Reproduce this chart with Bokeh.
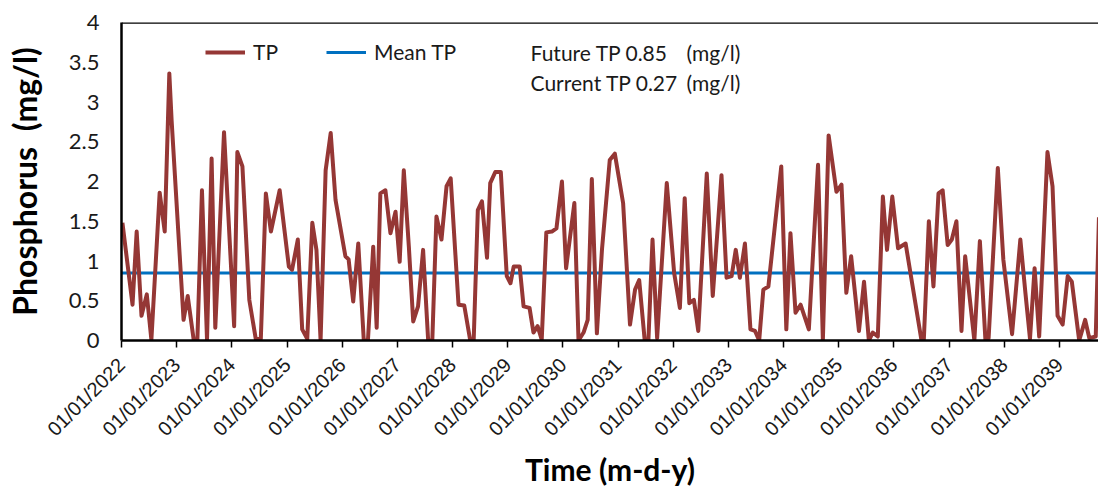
import math
import pandas as pd
from bokeh.plotting import figure
from bokeh.models import (Span, Label, Legend, LegendItem, FixedTicker,
                          DatetimeTickFormatter, Range1d)
from bokeh.embed import file_html
from bokeh.resources import INLINE

# ---- data (months since 01/01/2022, TP in mg/l) ----
months = [0.2, 2.4, 3.3, 4.35, 5.5, 6.5, 8.3, 9.4, 10.4, 10.9,
          13.5, 14.4, 15.7, 16.5, 17.5, 18.6, 19.6, 20.4, 22.3, 24.5,
          25.2, 26.3, 27.8, 29.2, 30.3, 31.4, 32.5, 34.4, 36.4, 37.1,
          38.35, 39.3, 40.4, 41.5, 42.4, 43.3, 44.4, 45.5, 46.55, 48.7,
          49.4, 50.4, 51.5, 52.7, 53.6, 54.75, 55.5, 56.3, 57.4, 58.5,
          59.6, 60.5, 61.4, 62.5, 63.45, 64.5, 65.6, 66.7, 67.6, 68.5,
          69.6, 70.7, 71.6, 73.3, 74.55, 75.85, 76.6, 77.5, 78.4, 79.5,
          80.2, 81.3, 82.5, 83.8, 84.6, 85.3, 86.6, 87.45, 88.75, 89.6,
          90.5, 91.4, 92.4, 93.6, 94.6, 95.8, 96.7, 98.5, 99.4, 100.5,
          101.4, 102.3, 103.4, 104.5, 106.2, 107.3, 109.1, 110.6, 111.7, 112.6,
          113.8, 114.6, 115.5, 116.5, 118.6, 120.2, 121.45, 122.5, 123.5, 124.5,
          125.45, 127.3, 128.6, 130.5, 131.6, 132.7, 133.6, 134.5, 135.6, 136.8,
          137.8, 138.7, 139.6, 140.7, 143.5, 144.6, 145.5, 146.6, 147.7, 149.5,
          151.5, 152.55, 153.8, 155.5, 156.6, 157.65, 158.7, 160.4, 161.5, 162.55,
          163.4, 164.5, 165.6, 166.5, 167.65, 168.9, 170.55, 174.0, 174.5, 175.6,
          176.6, 177.7, 178.6, 179.7, 180.6, 181.6, 182.7, 183.5, 185.5, 186.7,
          187.9, 188.6, 190.6, 191.8, 193.7, 195.5, 196.6, 197.6, 198.6, 199.6,
          201.4, 202.5, 203.6, 204.7, 205.8, 206.7, 208.3, 209.6, 210.5, 211.9,
          212.6]

tp = [1.48, 0.45, 1.37, 0.31, 0.58, 0.01, 1.86, 1.37, 3.36, 2.77,
      0.26, 0.56, 0.01, 0.0, 1.89, 0.01, 2.29, 0.16, 2.62, 0.18,
      2.37, 2.19, 0.51, 0.02, 0.02, 1.85, 1.37, 1.89, 0.93, 0.89,
      1.27, 0.14, 0.02, 1.48, 1.14, 0.0, 2.14, 2.61, 1.77, 1.06,
      1.02, 0.49, 1.22, 0.0, 0.0, 1.18, 0.16, 1.85, 1.89, 1.35,
      1.62, 0.99, 2.14, 1.18, 0.24, 0.43, 1.14, 0.0, 0.0, 1.56,
      1.27, 1.94, 2.04, 0.45, 0.44, 0.0, 0.0, 1.64, 1.75, 1.04,
      1.98, 2.12, 2.12, 0.81, 0.72, 0.93, 0.93, 0.43, 0.41, 0.10,
      0.18, 0.01, 1.36, 1.37, 1.41, 2.00, 0.91, 1.73, 0.0, 0.10,
      0.26, 2.03, 0.09, 1.14, 2.27, 2.35, 1.73, 0.20, 0.64, 0.76,
      0.0, 0.0, 1.27, 0.03, 1.98, 0.85, 0.41, 1.79, 0.47, 0.51,
      0.12, 2.10, 0.56, 2.08, 0.79, 0.81, 1.14, 0.79, 1.22, 0.14,
      0.12, 0.0, 0.64, 0.68, 2.19, 0.14, 1.35, 0.35, 0.45, 0.14,
      2.21, 0.0, 2.58, 1.87, 1.96, 0.60, 1.06, 0.12, 0.74, 0.0,
      0.10, 0.05, 1.81, 1.14, 1.81, 1.16, 1.22, 0.0, 0.0, 1.50,
      0.68, 1.85, 1.89, 1.20, 1.27, 1.50, 0.12, 1.06, 0.0, 1.25,
      0.01, 0.03, 2.17, 1.02, 0.08, 1.27, 0.60, 0.02, 0.91, 0.05,
      2.37, 1.94, 0.31, 0.20, 0.81, 0.74, 0.0, 0.26, 0.03, 0.05,
      1.55]

mean_tp = 0.85
future_tp = 0.85
current_tp = 0.27
tick_years = list(range(2022, 2040))
y_ticks = [0, 0.5, 1, 1.5, 2, 2.5, 3, 3.5, 4]
y_tick_labels = ["0", "0.5", "1", "1.5", "2", "2.5", "3", "3.5", "4"]

# ---- helpers ----
base = pd.Timestamp("2022-01-01")
MONTH_DAYS = 30.4375


def month_to_ms(m):
    return (base + pd.Timedelta(days=m * MONTH_DAYS)).value / 1e6


dates = [month_to_ms(m) for m in months]
x_start = month_to_ms(0.0)
x_end = month_to_ms(212.5)

TEXT = "#1a1a1a"

p = figure(width=1098, height=489, x_axis_type="datetime",
           output_backend="svg", toolbar_location=None,
           x_range=Range1d(x_start, x_end), y_range=Range1d(0, 4),
           min_border_left=121, min_border_right=0,
           min_border_top=22, min_border_bottom=148,
           background_fill_color="white", border_fill_color="white")
p.outline_line_color = None
p.grid.grid_line_color = None

r_mean = p.line([x_start, x_end], [mean_tp, mean_tp], line_color="#0070C0", line_width=3)
r_tp = p.line(dates, tp, line_color="#953735", line_width=4, line_join="round")

# top frame border
p.add_layout(Span(location=4, dimension="width", line_color="black", line_width=2.5))

# y axis
yax = p.yaxis[0]
yax.ticker = FixedTicker(ticks=y_ticks)
yax.major_label_overrides = dict(zip(y_ticks, y_tick_labels))
yax.major_tick_line_color = None
yax.minor_tick_line_color = None
yax.axis_line_color = "black"
yax.axis_line_width = 2.5
yax.major_label_text_font = "Lato"
yax.major_label_text_font_size = "22px"
yax.major_label_text_color = TEXT
yax.major_label_standoff = 16
yax.axis_label = "Phosphorus\u00a0\u00a0(mg/l)"
yax.axis_label_text_font = "Lato"
yax.axis_label_text_font_style = "bold"
yax.axis_label_text_font_size = "32px"
yax.axis_label_text_color = "black"
yax.axis_label_standoff = 22

# x axis
xax = p.xaxis[0]
xax.ticker = FixedTicker(ticks=[pd.Timestamp(f"{y}-01-01").value / 1e6 for y in tick_years])
fmt = "%m/%d/%Y"
xax.formatter = DatetimeTickFormatter(milliseconds=fmt, seconds=fmt, minsec=fmt, minutes=fmt,
                                      hourmin=fmt, hours=fmt, days=fmt, months=fmt, years=fmt)
xax.major_label_orientation = math.pi / 4
xax.major_tick_in = 0
xax.major_tick_out = 7
xax.major_tick_line_width = 1.5
xax.minor_tick_line_color = None
xax.axis_line_color = "black"
xax.axis_line_width = 2.5
xax.major_label_text_font = "Liberation Sans"
xax.major_label_text_font_size = "20px"
xax.major_label_text_color = TEXT
xax.major_label_standoff = 14
xax.axis_label = "Time (m-d-y)"
xax.axis_label_text_font = "Lato"
xax.axis_label_text_font_style = "bold"
xax.axis_label_text_font_size = "30px"
xax.axis_label_text_color = "black"
xax.axis_label_standoff = 0

# legend
legend = Legend(items=[LegendItem(label="TP", renderers=[r_tp]),
                       LegendItem(label="Mean TP", renderers=[r_mean])],
                orientation="horizontal", location=(84, 276),
                background_fill_alpha=0, border_line_color=None,
                glyph_width=40, glyph_height=24, label_standoff=8,
                spacing=48, padding=0, margin=0,
                label_text_font="Lato", label_text_font_size="21px",
                label_text_color=TEXT)
p.add_layout(legend)


def px_to_ms(px):
    return month_to_ms((px - 121) / 4.597)


for txt, yv in [(f"Future TP {future_tp:.2f}", 3.62), (f"Current TP {current_tp:.2f}", 3.25)]:
    p.add_layout(Label(x=px_to_ms(530), y=yv, text=txt, text_font="Lato",
                       text_font_size="21px", text_color=TEXT, text_baseline="middle"))
    p.add_layout(Label(x=px_to_ms(686), y=yv, text="(mg/l)", text_font="Lato",
                       text_font_size="21px", text_color=TEXT, text_baseline="middle"))

open("out.html", "w").write(file_html(p, INLINE))
